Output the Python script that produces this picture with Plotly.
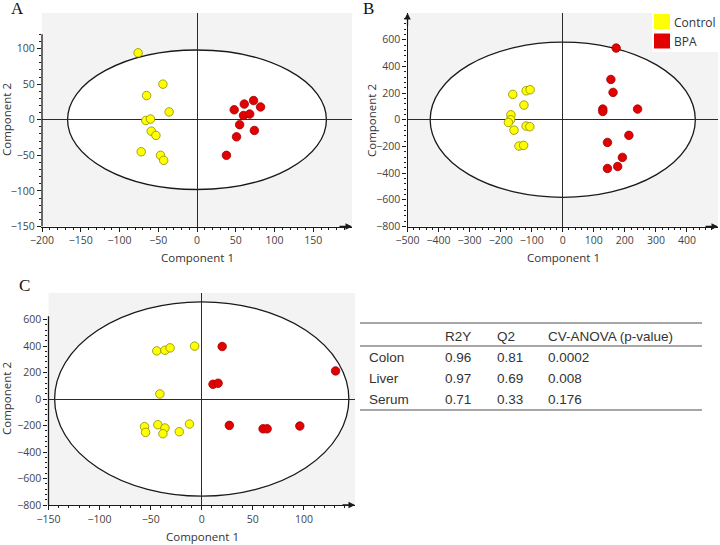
import plotly.graph_objects as go

W, H = 720, 545

# panel A (colon)
a_ctrl_x = [-76, -44, -65, -36, -66, -60, -59, -53, -72, -47, -43]
a_ctrl_y = [94, 50, 34, 11, -1, 1, -16, -22, -45, -50, -57]
a_bpa_x = [48, 61, 73, 82, 60, 68, 55, 74, 51, 38]
a_bpa_y = [14, 22, 27, 18, 6, 8, -7, -15, -24, -50]
a_ellipse = (167, 98)

# panel B (liver)
b_ctrl_x = [-161, -118, -105, -125, -167, -168, -175, -157, -118, -106, -141, -126]
b_ctrl_y = [190, 217, 225, 110, 37, 0, -20, -78, -47, -52, -197, -192]
b_bpa_x = [172, 155, 162, 129, 129, 241, 213, 144, 192, 144, 177]
b_bpa_y = [537, 302, 205, 80, 62, 80, -117, -170, -282, -365, -350]
b_ellipse = (427, 581)

# panel C (serum)
c_ctrl_x = [-44, -36, -31, -7, -41, -56, -55, -43, -36, -38, -22, -12]
c_ctrl_y = [363, 368, 386, 399, 38, -209, -252, -194, -219, -262, -247, -189]
c_bpa_x = [20, 11, 16, 131, 27, 60, 64, 96]
c_bpa_y = [396, 111, 119, 212, -199, -225, -225, -204]
c_ellipse = (144, 733)

groups = ["Control", "BPA"]

# table
tbl_header = ["", "R2Y", "Q2", "CV-ANOVA (p-value)"]
tbl_rows = [
    ["Colon", "0.96", "0.81", "0.0002"],
    ["Liver", "0.97", "0.69", "0.008"],
    ["Serum", "0.71", "0.33", "0.176"],
]

YELLOW, YELLOW_EDGE = "#ffff00", "#8c8c00"
RED, RED_EDGE = "#e30000", "#a00000"
AXC = "#1a1a1a"
TICKFONT = dict(family="Open Sans", size=10.5, color="#444")


def px_x(p):
    return p / W


def px_y(p):
    return 1 - p / H


def label(text, x, y, font, **kw):
    kw.setdefault("xanchor", "center")
    kw.setdefault("yanchor", "middle")
    fig.add_annotation(x=px_x(x), y=px_y(y), xref="paper", yref="paper", text=text,
                       showarrow=False, font=font, **kw)


fig = go.Figure()

panels = [
    ("", a_ctrl_x, a_ctrl_y, a_bpa_x, a_bpa_y, a_ellipse),
    ("2", b_ctrl_x, b_ctrl_y, b_bpa_x, b_bpa_y, b_ellipse),
    ("3", c_ctrl_x, c_ctrl_y, c_bpa_x, c_bpa_y, c_ellipse),
]
for sfx, cx, cy, bx, by, (ea, eb) in panels:
    xa, ya = "x" + sfx, "y" + sfx
    fig.add_scatter(x=cx, y=cy, mode="markers", xaxis=xa, yaxis=ya, showlegend=False, name=groups[0],
                    marker=dict(size=8.5, color=YELLOW, line=dict(color=YELLOW_EDGE, width=0.8)))
    fig.add_scatter(x=bx, y=by, mode="markers", xaxis=xa, yaxis=ya, showlegend=False, name=groups[1],
                    marker=dict(size=8.5, color=RED, line=dict(color=RED_EDGE, width=0.8)))
    fig.add_shape(type="circle", xref=xa, yref=ya, x0=-ea, x1=ea, y0=-eb, y1=eb,
                  fillcolor="white", line=dict(color=AXC, width=1.3), layer="below")


def axis(domain, rng, tickvals, minor, anchor, line=True):
    return dict(domain=domain, range=rng, tickvals=tickvals, anchor=anchor, automargin=False,
                showgrid=False, zeroline=True, zerolinecolor="#2a2a2a", zerolinewidth=1.3,
                showline=True, linecolor=AXC if line else "rgba(0,0,0,0)", linewidth=1.3,
                ticks="outside", ticklen=4, tickcolor=AXC,
                minor=dict(tickvals=minor, ticks="outside", ticklen=2, tickcolor=AXC, showgrid=False),
                tickfont=TICKFONT, fixedrange=True)


A_dom_y = [px_y(226.5), px_y(13)]
C_dom_y = [px_y(505), px_y(293)]

fig.update_layout(
    width=W, height=H, margin=dict(l=0, r=0, t=0, b=0, autoexpand=False),
    paper_bgcolor="white", plot_bgcolor="#f3f3f3", showlegend=False,
    xaxis=axis([px_x(42), px_x(352)], [-200, 200], list(range(-200, 151, 50)),
               list(range(-200, 191, 10)), "y"),
    yaxis=axis(A_dom_y, [-150, 150], list(range(-150, 101, 50)),
               list(range(-150, 121, 10)), "x", line=False),
    xaxis2=axis([px_x(407.5), px_x(718)], [-500, 500], list(range(-500, 401, 100)),
                list(range(-500, 481, 20)), "y2"),
    yaxis2=axis(A_dom_y, [-800, 800], list(range(-800, 601, 200)),
                list(range(-800, 781, 40)), "x2"),
    xaxis3=axis([px_x(48.5), px_x(355)], [-150, 150], list(range(-150, 101, 50)),
                list(range(-150, 141, 10)), "y3"),
    yaxis3=axis(C_dom_y, [-800, 800], list(range(-800, 601, 200)),
                list(range(-800, 621, 40)), "x3", line=False),
)

# partial left axis lines for A and C
for sfx, top in [("", 120), ("3", 625)]:
    fig.add_shape(type="line", xref=f"x{sfx} domain", yref=f"y{sfx}", x0=0, x1=0,
                  y0=fig.layout[f"yaxis{sfx}"].range[0], y1=top, line=dict(color=AXC, width=1.3))

# axis arrows
for sfx in ["", "2", "3"]:
    fig.add_annotation(x=1, y=0, xref=f"x{sfx} domain", yref=f"y{sfx} domain", text="",
                       showarrow=True, ax=-14, ay=0, arrowhead=2, arrowsize=1,
                       arrowwidth=1.3, arrowcolor=AXC)
fig.add_annotation(x=0, y=1, xref="x2 domain", yref="y2 domain", text="",
                   showarrow=True, ax=0, ay=14, arrowhead=2, arrowsize=1,
                   arrowwidth=1.3, arrowcolor=AXC)

# legend box in panel B
fig.add_shape(type="rect", xref="paper", yref="paper", x0=px_x(652), x1=px_x(720),
              y0=px_y(52), y1=px_y(12), fillcolor="white", line=dict(width=0))
legfont = dict(family="Open Sans", size=12, color="#333")
for i, (name, col) in enumerate(zip(groups, [YELLOW, RED])):
    top = 14 + i * 19.5
    fig.add_shape(type="rect", xref="paper", yref="paper", x0=px_x(654), x1=px_x(670),
                  y0=px_y(top + 15), y1=px_y(top), fillcolor=col, line=dict(width=0))
    label(name, 672, top + 8, legfont, xanchor="left")

# axis titles
titlefont = dict(family="Open Sans", size=11.5, color="#333")
for x, y in [(197, 257), (563, 257), (202, 536)]:
    label("Component 1", x, y, titlefont)
for x, y in [(6, 120), (371, 120), (6, 399)]:
    label("Component 2", x, y, titlefont, textangle=-90)

# panel letters
serif = dict(family="Liberation Serif", size=17, color="#111")
for letter, x, y in [("A", 17, 8), ("B", 368, 9), ("C", 24, 285)]:
    label(letter, x, y, serif)

# table
tfont = dict(family="Liberation Sans", size=13.5, color="#333")
col_x = [367, 443, 495, 546]
row_y = [336, 357, 378, 399]
for r, row in enumerate([tbl_header] + tbl_rows):
    for c, txt in enumerate(row):
        if txt:
            label(txt, col_x[c], row_y[r], tfont, xanchor="left")
for y in [323, 346, 410]:
    fig.add_shape(type="line", xref="paper", yref="paper", x0=px_x(360), x1=px_x(702),
                  y0=px_y(y), y1=px_y(y), line=dict(color="#8a8a8a", width=1.5))

# page has a default 8px body margin; drop it so the figure sits at the window origin
fig.write_html("out.html", config={"displayModeBar": False},
               post_script="document.body.style.margin='0px';")
